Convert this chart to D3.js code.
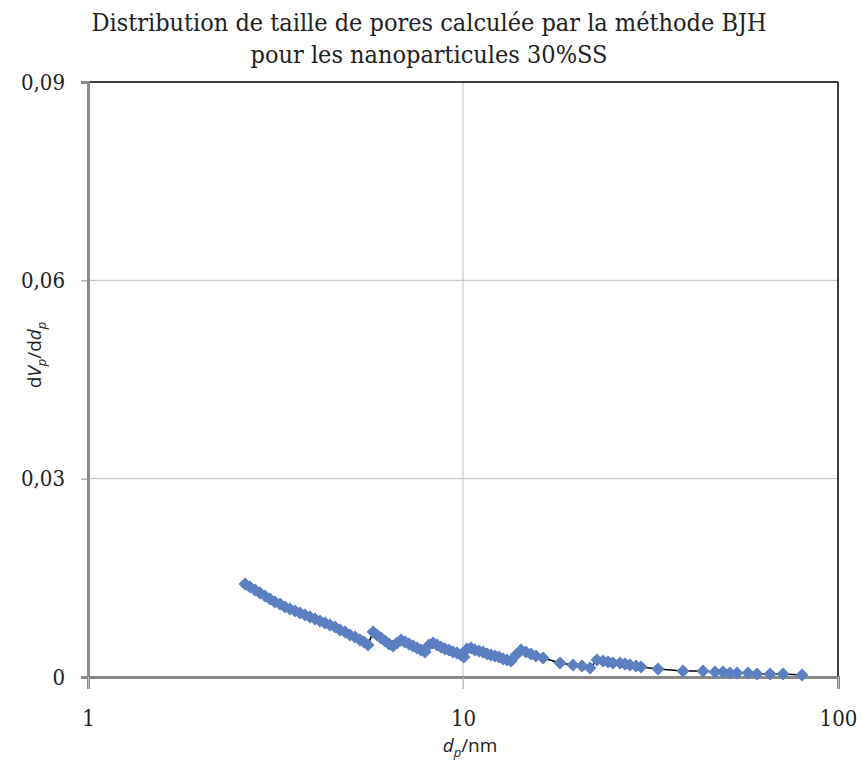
<!DOCTYPE html>
<html><head><meta charset="utf-8">
<script src="https://cdn.jsdelivr.net/npm/d3@7"></script>
<style>body{margin:0;background:#fff}</style>
</head><body>
<script>
const titleLines = ["Distribution de taille de pores calculée par la méthode BJH", "pour les nanoparticules 30%SS"];
const poreDiameter = [2.623,2.704,2.789,2.875,2.965,3.057,3.152,3.251,3.352,3.456,3.565,3.676,3.790,3.908,4.030,4.155,4.285,4.418,4.556,4.699,4.845,4.996,5.152,5.312,5.445,5.581,
 5.754,5.897,6.045,6.194,6.348,6.507,6.668,6.834,7.004,7.178,7.356,7.541,7.727,7.920,8.117,8.318,8.525,8.737,8.954,9.177,9.404,9.638,9.878,10.06,
 10.25,10.50,10.76,11.03,11.31,11.59,11.88,12.17,12.47,12.79,13.10,13.43,13.85,14.28,14.72,15.18,15.65,16.35,18.14,19.65,20.77,21.82,
 22.77,23.62,24.36,25.12,26.22,27.04,27.88,28.93,29.83,33.11,38.61,43.65,46.99,49.37,51.52,53.79,57.54,60.81,65.89,71.36,80.17];
const dVdd = [0.01407,0.01361,0.01316,0.01271,0.01225,0.01180,0.01135,0.01104,0.01059,0.01029,0.00998,0.00968,0.00938,0.00908,0.00877,0.00847,0.00817,0.00787,0.00756,0.00711,0.00681,0.00635,0.00605,0.00560,0.00529,0.00484,
 0.00681,0.00635,0.00590,0.00545,0.00499,0.00469,0.00514,0.00560,0.00529,0.00499,0.00469,0.00439,0.00408,0.00378,0.00484,0.00514,0.00484,0.00454,0.00424,0.00408,0.00378,0.00363,0.00333,0.00303,
 0.00424,0.00439,0.00408,0.00393,0.00378,0.00348,0.00333,0.00318,0.00303,0.00272,0.00257,0.00242,0.00333,0.00408,0.00378,0.00348,0.00318,0.00287,0.00212,0.00182,0.00166,0.00136,
 0.00257,0.00242,0.00227,0.00212,0.00212,0.00197,0.00182,0.00166,0.00151,0.00121,0.00091,0.00091,0.00076,0.00076,0.00061,0.00061,0.00061,0.00045,0.00045,0.00045,0.00030];
const xTicks = [1, 10, 100];
const xTickLabels = ["1", "10", "100"];
const yTicks = [0, 0.03, 0.06, 0.09];
const yTickLabels = ["0", "0,03", "0,06", "0,09"];

const W = 863, H = 764;
const L = 88, R = 838, T = 82, B = 677;
const svg = d3.select("body").append("svg").attr("width", W).attr("height", H);
const x = d3.scaleLog().domain([1, 100]).range([L, R]);
const y = d3.scaleLinear().domain([0, 0.09]).range([B, T]);
const serif = "'DejaVu Serif Condensed','DejaVu Serif',serif";

// title
svg.append("g").selectAll("text").data(titleLines).join("text")
  .attr("x", 429).attr("y", (d, i) => 31 + i * 32)
  .attr("text-anchor", "middle")
  .style("font-family", serif)
  .style("font-size", "25px").style("fill", "#222")
  .text(d => d);

// gridlines
svg.append("g").selectAll("line").data(yTicks.filter(v => v > 0 && v < 0.09)).join("line")
  .attr("x1", L).attr("x2", R).attr("y1", d => y(d)).attr("y2", d => y(d))
  .attr("stroke", "#bdbdbd").attr("stroke-width", 1);
svg.append("g").selectAll("line").data(xTicks.filter(v => v > 1 && v < 100)).join("line")
  .attr("x1", d => x(d)).attr("x2", d => x(d)).attr("y1", T).attr("y2", B + 12)
  .attr("stroke", "#bdbdbd").attr("stroke-width", 1);

// frame top/right
svg.append("line").attr("x1", L).attr("x2", R).attr("y1", T).attr("y2", T).attr("stroke", "#000").attr("stroke-width", 1.5);
svg.append("line").attr("x1", R).attr("x2", R).attr("y1", T).attr("y2", B).attr("stroke", "#000").attr("stroke-width", 1.5);

// axes
const yAxis = svg.append("g").attr("transform", `translate(${L},0)`)
  .call(d3.axisLeft(y).tickValues(yTicks).tickFormat((d, i) => yTickLabels[i]).tickSize(7).tickPadding(16));
yAxis.select(".domain").attr("stroke", "#8a8a8a").attr("stroke-width", 3);
yAxis.selectAll(".tick line").attr("stroke", "#8a8a8a");
yAxis.selectAll(".tick text").style("font-family", serif).style("font-size", "22px").style("fill", "#222");

const xAxis = svg.append("g").attr("transform", `translate(0,${B})`)
  .call(d3.axisBottom(x).tickValues(xTicks).tickFormat((d, i) => xTickLabels[i]).tickSize(12).tickPadding(21));
xAxis.select(".domain").attr("stroke", "#8a8a8a").attr("stroke-width", 3);
xAxis.selectAll(".tick line").attr("stroke", "#bdbdbd");
xAxis.selectAll(".tick text").style("font-family", serif).style("font-size", "22px").style("fill", "#222");

// axis titles
const xt = svg.append("text").attr("x", 470).attr("y", 752).attr("text-anchor", "middle")
  .style("font-family", "'Open Sans','DejaVu Sans',sans-serif").style("font-size", "19px").style("fill", "#222");
xt.append("tspan").style("font-style", "italic").text("d");
xt.append("tspan").style("font-style", "italic").style("font-size", "13px").attr("dy", 5).text("p");
xt.append("tspan").attr("dy", -5).text("/nm");

const yt = svg.append("text").attr("transform", "translate(41,355) rotate(-90)").attr("text-anchor", "middle")
  .style("font-family", "'Open Sans','DejaVu Sans',sans-serif").style("font-size", "19px").style("fill", "#222");
yt.append("tspan").text("d");
yt.append("tspan").style("font-style", "italic").text("V");
yt.append("tspan").style("font-style", "italic").style("font-size", "13px").attr("dy", 5).text("p");
yt.append("tspan").attr("dy", -5).text("/d");
yt.append("tspan").style("font-style", "italic").text("d");
yt.append("tspan").style("font-style", "italic").style("font-size", "13px").attr("dy", 5).text("p");

// data
const pts = poreDiameter.map((d, i) => [d, dVdd[i]]);
svg.append("path").datum(pts)
  .attr("d", d3.line().x(d => x(d[0])).y(d => y(d[1])))
  .attr("fill", "none").attr("stroke", "#000").attr("stroke-width", 1.5);
svg.append("g").selectAll("path").data(pts).join("path")
  .attr("transform", d => `translate(${x(d[0])},${y(d[1])}) rotate(45)`)
  .attr("d", d3.symbol(d3.symbolSquare, 85))
  .attr("fill", "#5b7fc0");
</script>
</body></html>
